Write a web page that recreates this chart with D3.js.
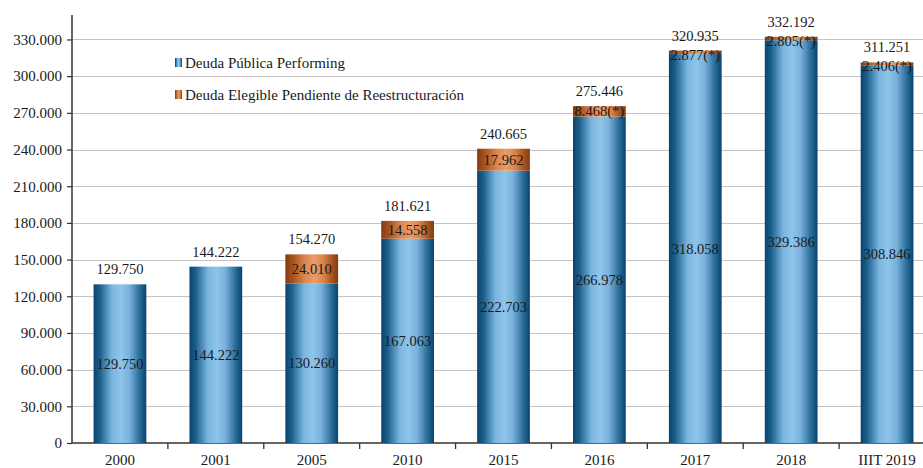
<!DOCTYPE html>
<html>
<head>
<meta charset="utf-8">
<script src="https://cdn.jsdelivr.net/npm/d3@7"></script>
<style>
  html, body { margin: 0; padding: 0; background: #ffffff; }
  svg { display: block; }
  text { font-family: "Liberation Serif", "DejaVu Serif", serif; fill: #1a1a1a; }
</style>
</head>
<body>
<svg id="chart" width="923" height="468"></svg>
<script>
// Stock of public debt, millions (stacked: performing + eligible pending restructuring)
const categories = ["2000", "2001", "2005", "2010", "2015", "2016", "2017", "2018", "IIIT 2019"];
const performing = [129750, 144222, 130260, 167063, 222703, 266978, 318058, 329386, 308846];
const eligible   = [0, 0, 24010, 14558, 17962, 8468, 2877, 2805, 2406];
const totals     = [129750, 144222, 154270, 181621, 240665, 275446, 320935, 332192, 311251];
const starred    = [false, false, false, false, false, true, true, true, true];
const yTicks     = [0, 30000, 60000, 90000, 120000, 150000, 180000, 210000, 240000, 270000, 300000, 330000];
const seriesNames = ["Deuda Pública Performing", "Deuda Elegible Pendiente de Reestructuración"];

const svg = d3.select("#chart");
const W = 923, H = 468;
const margin = { left: 72, top: 15, bottom: 25 };

const locale = d3.formatLocale({ decimal: ",", thousands: ".", grouping: [3], currency: ["", ""] });
const fmt = locale.format(",");

const x = d3.scaleBand()
  .domain(categories)
  .range([margin.left, 935])
  .paddingInner(0.45)
  .paddingOuter(0.225);

const y = d3.scaleLinear()
  .domain([0, 350000])
  .range([H - margin.bottom, margin.top]);

// Gradients giving the bars a cylindrical look
const defs = svg.append("defs");
function cylinder(id, stops) {
  const g = defs.append("linearGradient").attr("id", id)
    .attr("x1", "0%").attr("x2", "100%").attr("y1", "0%").attr("y2", "0%");
  stops.forEach(([o, c]) => g.append("stop").attr("offset", o).attr("stop-color", c));
}
cylinder("gBlue", [["0%", "#08446b"], ["12%", "#1c5f8c"], ["35%", "#7ab5df"], ["52%", "#8ec5ea"], ["68%", "#78b1db"], ["88%", "#286a97"], ["100%", "#08446b"]]);
cylinder("gOrange", [["0%", "#863a0f"], ["14%", "#a5521f"], ["38%", "#dc8850"], ["55%", "#eb9c6a"], ["72%", "#d9844b"], ["90%", "#a3501c"], ["100%", "#863a0f"]]);

// Horizontal gridlines
svg.append("g")
  .selectAll("line")
  .data(yTicks.filter(d => d > 0))
  .join("line")
  .attr("x1", margin.left).attr("x2", W)
  .attr("y1", d => Math.round(y(d)) + 0.5).attr("y2", d => Math.round(y(d)) + 0.5)
  .attr("stroke", "#c4c4c4").attr("stroke-width", 1.2);

// Y axis
const yAxis = svg.append("g")
  .attr("transform", `translate(${margin.left},0)`)
  .call(d3.axisLeft(y).tickValues(yTicks).tickFormat(d => fmt(d)).tickSize(5).tickPadding(5));
yAxis.select(".domain").attr("stroke", "#333").attr("stroke-width", 1.5)
  .attr("d", `M0,${y(0)}V${y(350000)}`);
yAxis.selectAll(".tick line").attr("stroke", "#333").attr("stroke-width", 1.2);
yAxis.selectAll(".tick text").style("font-size", "15px").style("font-family", "Liberation Serif, serif").attr("fill", "#1a1a1a");

// X axis: ticks on category boundaries
const xAxisG = svg.append("g").attr("transform", `translate(0,${y(0)})`);
xAxisG.append("line").attr("x1", margin.left).attr("x2", W)
  .attr("stroke", "#333").attr("stroke-width", 1.5);
const step = x.step();
xAxisG.selectAll("line.tk")
  .data(categories.slice(1))
  .join("line").attr("class", "tk")
  .attr("x1", d => x(d) - x.paddingInner() * step / 2).attr("x2", d => x(d) - x.paddingInner() * step / 2)
  .attr("y1", 0).attr("y2", 6)
  .attr("stroke", "#333").attr("stroke-width", 1.3);
xAxisG.selectAll("text")
  .data(categories)
  .join("text")
  .attr("x", d => x(d) + x.bandwidth() / 2)
  .attr("y", 21.5)
  .attr("text-anchor", "middle")
  .style("font-size", "15px")
  .text(d => d);

// Stacked bars
const bars = svg.append("g");
categories.forEach((c, i) => {
  const bx = x(c), bw = x.bandwidth();
  bars.append("rect")
    .attr("x", bx).attr("width", bw)
    .attr("y", y(performing[i])).attr("height", y(0) - y(performing[i]))
    .attr("fill", "url(#gBlue)");
  if (eligible[i] > 0) {
    const top = performing[i] + eligible[i];
    bars.append("rect")
      .attr("x", bx).attr("width", bw)
      .attr("y", y(top)).attr("height", y(performing[i]) - y(top))
      .attr("fill", "url(#gOrange)");
  }
});

// Value labels
const labels = svg.append("g").style("font-size", "14.5px");
categories.forEach((c, i) => {
  const cx = x(c) + x.bandwidth() / 2;
  const top = performing[i] + eligible[i];
  // total above bar
  labels.append("text").attr("x", cx).attr("y", y(top) - 10)
    .attr("text-anchor", "middle").text(fmt(totals[i]));
  // performing segment, centred
  labels.append("text").attr("x", cx).attr("y", (y(0) + y(performing[i])) / 2 + 5)
    .attr("text-anchor", "middle").text(fmt(performing[i]));
  // eligible segment
  if (eligible[i] > 0) {
    const mid = (y(top) + y(performing[i])) / 2;
    labels.append("text").attr("x", cx).attr("y", Math.max(mid + 5, y(top) + 9))
      .attr("text-anchor", "middle")
      .text(fmt(eligible[i]) + (starred[i] ? "(*)" : ""));
  }
});

// Legend
const legend = svg.append("g").attr("transform", "translate(175,0)");
const swatches = ["url(#gBlue)", "url(#gOrange)"];
const legendY = [63, 95];
seriesNames.forEach((n, i) => {
  legend.append("rect").attr("x", 0).attr("y", legendY[i] - 5).attr("width", 7).attr("height", 9)
    .attr("fill", swatches[i]);
  legend.append("text").attr("x", 10).attr("y", legendY[i] + 5)
    .style("font-size", "15px").text(n);
});
</script>
</body>
</html>
